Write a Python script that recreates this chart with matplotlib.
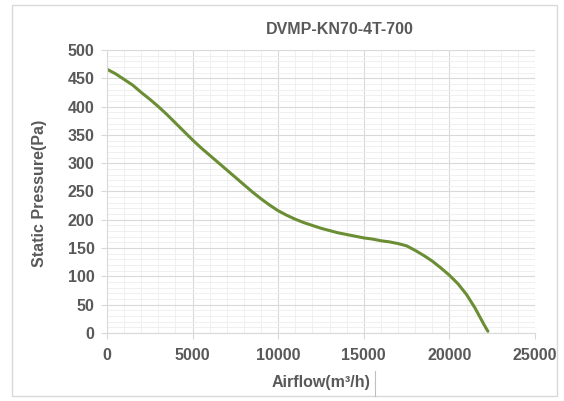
import matplotlib
matplotlib.use('Agg')
import matplotlib.pyplot as plt
from matplotlib.patches import Rectangle
from matplotlib.lines import Line2D
from matplotlib.ticker import MultipleLocator

# Curva do ventilador
airflow = [0, 500, 1000, 1500, 2000, 2500, 3000, 3500, 4000, 4500, 5000,
           5500, 6000, 6500, 7000, 7500, 8000, 8500, 9000, 9500, 10000,
           10500, 11000, 11500, 12000, 12500, 13000, 13500, 14000, 14500,
           15000, 15500, 16000, 16500, 17000, 17500, 18000, 18500, 19000,
           19500, 20000, 20500, 21000, 21500, 22000, 22250]
pressao = [466, 458, 448, 438, 425, 413, 400, 386, 371, 356, 341,
           327, 314, 301, 288, 275, 262, 249, 237, 226, 216,
           208, 201, 195, 190, 185, 181, 177, 174, 171,
           168, 166, 163, 161, 158, 154, 146, 137, 127,
           115, 102, 87, 68, 44, 16, 3]

titulo = 'DVMP-KN70-4T-700'
cinza = '#595959'

plt.rcParams['font.family'] = ['Liberation Sans', 'DejaVu Sans']

fig = plt.figure(figsize=(5.64, 4.01), dpi=100)
fig.patch.set_facecolor('white')
fig.add_artist(Rectangle((12 / 564, 5 / 401), 545 / 564, 391 / 401,
                         transform=fig.transFigure, fill=False,
                         edgecolor='#d9d9d9', linewidth=1))

ax = fig.add_axes([107 / 564, 68 / 401, 428 / 564, 283 / 401])
ax.plot(airflow, pressao, color='#6b8e35', linewidth=2.2,
        solid_capstyle='round', solid_joinstyle='round')

ax.set_xlim(0, 25000)
ax.set_ylim(0, 500)
ax.xaxis.set_major_locator(MultipleLocator(5000))
ax.yaxis.set_major_locator(MultipleLocator(50))
ax.xaxis.set_minor_locator(MultipleLocator(1000))
ax.yaxis.set_minor_locator(MultipleLocator(10))
ax.grid(True, which='major', color='#d9d9d9', linewidth=0.8)
ax.grid(True, which='minor', color='#eeeeee', linewidth=0.6)
ax.set_axisbelow(True)

for s in ['top', 'right']:
    ax.spines[s].set_visible(False)
for s in ['left', 'bottom']:
    ax.spines[s].set_color('#d9d9d9')
ax.tick_params(which='major', colors='#d9d9d9', length=4, labelcolor=cinza,
               labelsize=11.5)
ax.tick_params(which='minor', length=0)
for lbl in ax.get_xticklabels() + ax.get_yticklabels():
    lbl.set_fontweight('bold')
ax.tick_params(axis='x', pad=7)
ax.tick_params(axis='y', pad=5)

fig.text(340 / 564, 1 - 30 / 401, titulo, ha='center', va='center',
         fontsize=11.5, fontweight='bold', color=cinza)
fig.text(40 / 564, 1 - 193 / 401, 'Static Pressure(Pa)', rotation=90,
         ha='center', va='center', fontsize=11.5, fontweight='bold', color=cinza)
fig.text(321 / 564, 1 - 383 / 401, 'Airflow(m³/h)', ha='center', va='center',
         fontsize=11.5, fontweight='bold', color=cinza)
fig.add_artist(Line2D([375 / 564, 375 / 564], [1 - 371 / 401, 1 - 396 / 401],
                      transform=fig.transFigure, color='#bfbfbf', linewidth=0.8))

fig.savefig('out.png', dpi=100)
